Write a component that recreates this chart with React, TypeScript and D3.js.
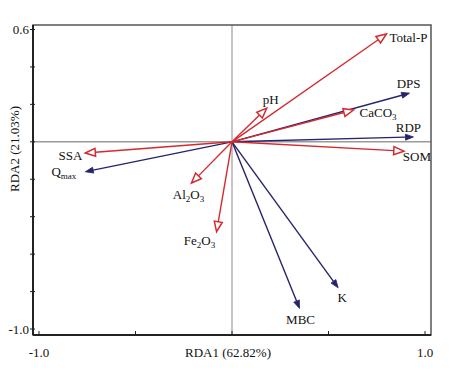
import React from 'react';
import * as d3 from 'd3';

// soil properties (red, hollow heads)
const envNames = ['Total-P', 'pH', 'CaCO3', 'SOM', 'SSA', 'Al2O3', 'Fe2O3'];
const envRda1 = [0.80, 0.18, 0.63, 0.89, -0.76, -0.21, -0.08];
const envRda2 = [0.576, 0.18, 0.17, -0.05, -0.06, -0.22, -0.48];

// response variables (navy, filled heads)
const respNames = ['DPS', 'RDP', 'Qmax', 'MBC', 'K'];
const respRda1 = [0.92, 0.94, -0.76, 0.35, 0.55];
const respRda2 = [0.26, 0.026, -0.16, -0.89, -0.78];

const xTicks = [-1.0, -0.5, 0, 0.5, 1.0];
const xTickLabels = ['-1.0', '', '', '', '1.0'];
const yTicks = [0.6, 0.4, 0.2, 0, -0.2, -0.4, -0.6, -0.8, -1.0];
const yTickLabels = ['0.6', '', '', '', '', '', '', '', '-1.0'];

const xTitle = 'RDA1 (62.82%)';
const yTitle = 'RDA2 (21.03%)';

// label placement: [dx, dy, anchor]
const labelPos: Record<string, [number, number, string]> = {
  'Total-P': [3, 8, 'start'],
  pH: [4, -4, 'middle'],
  CaCO3: [6, 7, 'start'],
  SOM: [-1, 10, 'start'],
  SSA: [-3, 7, 'end'],
  Al2O3: [-3, 16, 'middle'],
  Fe2O3: [-17, 13, 'middle'],
  DPS: [-1, -5, 'middle'],
  RDP: [-5, -5, 'middle'],
  Qmax: [-9, 4, 'end'],
  MBC: [1, 16, 'middle'],
  K: [4, 14, 'middle'],
};

// how each label is split into normal / subscript pieces
const labelParts: Record<string, [string, boolean][]> = {
  CaCO3: [['CaCO', false], ['3', true]],
  Al2O3: [['Al', false], ['2', true], ['O', false], ['3', true]],
  Fe2O3: [['Fe', false], ['2', true], ['O', false], ['3', true]],
  Qmax: [['Q', false], ['max', true]],
};

const RED = '#d42a2f';
const NAVY = '#25246b';
const FONT = '"Liberation Serif", "Times New Roman", serif';

const Label = ({ name }: { name: string }) => {
  const parts = labelParts[name];
  if (!parts) return <>{name}</>;
  let prevSub = false;
  return (
    <>
      {parts.map(([t, sub], i) => {
        const dy = sub === prevSub ? 0 : sub ? 3 : -3;
        prevSub = sub;
        return (
          <tspan key={i} dy={dy} fontSize={sub ? 9 : 13}>{t}</tspan>
        );
      })}
    </>
  );
};

export default function App() {
  const width = 466;
  const height = 386;
  const x = d3.scaleLinear().domain([-1.031, 1.031]).range([33, 431]);
  const y = d3.scaleLinear().domain([-1.032, 0.624]).range([335, 25]);
  const x0 = x(0);
  const y0 = y(0);

  const arrow = (tx: number, ty: number, len: number, half: number) => {
    const ang = Math.atan2(ty - y0, tx - x0);
    const bx = tx - len * Math.cos(ang);
    const by = ty - len * Math.sin(ang);
    const px = -Math.sin(ang) * half;
    const py = Math.cos(ang) * half;
    const p = d3.path();
    p.moveTo(tx, ty);
    p.lineTo(bx + px, by + py);
    p.lineTo(bx - px, by - py);
    p.closePath();
    return { d: p.toString(), bx, by };
  };

  const env = envNames.map((n, i) => ({ name: n, tx: x(envRda1[i]), ty: y(envRda2[i]) }));
  const resp = respNames.map((n, i) => ({ name: n, tx: x(respRda1[i]), ty: y(respRda2[i]) }));

  return (
    <svg width={width} height={height} style={{ position: 'absolute', left: 0, top: 0, background: '#fff' }}
      fontFamily={FONT}>
      {/* zero lines */}
      <line x1={x0} x2={x0} y1={25} y2={335} stroke="#8a8a8a" strokeWidth={1} />
      <line x1={33} x2={431} y1={y0} y2={y0} stroke="#9a9a9a" strokeWidth={1.6} />

      {/* frame */}
      <rect x={33} y={25} width={398} height={310} fill="none" stroke="#555" strokeWidth={1.5} />
      <line x1={33} x2={33} y1={25} y2={335} stroke="#222" strokeWidth={2} />
      <line x1={33} x2={431} y1={335} y2={335} stroke="#222" strokeWidth={2} />

      {yTicks.map((t, i) => (
        <g key={'y' + i}>
          <line x1={30} x2={35} y1={y(t)} y2={y(t)} stroke="#222" strokeWidth={1} />
          {yTickLabels[i] && (
            <text x={29} y={y(t) + 4.5} textAnchor="end" fontSize={13} fill="#111">{yTickLabels[i]}</text>
          )}
        </g>
      ))}
      {xTicks.map((t, i) => (
        <g key={'x' + i}>
          <line x1={x(t)} x2={x(t)} y1={331} y2={336} stroke="#222" strokeWidth={1} />
          {xTickLabels[i] && (
            <text x={x(t)} y={357} textAnchor="middle" fontSize={13} fill="#111">{xTickLabels[i]}</text>
          )}
        </g>
      ))}

      <text x={228} y={357} textAnchor="middle" fontSize={13} fill="#111">{xTitle}</text>
      <text transform={`translate(19,149) rotate(-90)`} textAnchor="middle" fontSize={13} fill="#111">{yTitle}</text>

      {/* response arrows */}
      {resp.map((d) => {
        const a = arrow(d.tx, d.ty, 8, 3);
        return (
          <g key={d.name}>
            <line x1={x0} y1={y0} x2={a.bx} y2={a.by} stroke={NAVY} strokeWidth={1.4} />
            <path d={a.d} fill={NAVY} stroke={NAVY} strokeWidth={0.8} />
          </g>
        );
      })}

      {/* environmental arrows */}
      {env.map((d) => {
        const a = arrow(d.tx, d.ty, 10, 4);
        return (
          <g key={d.name}>
            <line x1={x0} y1={y0} x2={a.bx} y2={a.by} stroke={RED} strokeWidth={1.4} />
            <path d={a.d} fill="#fff" stroke={RED} strokeWidth={1.5} strokeLinejoin="miter" />
          </g>
        );
      })}

      {[...env, ...resp].map((d) => {
        const [dx, dy, anchor] = labelPos[d.name];
        return (
          <text key={'l' + d.name} x={d.tx + dx} y={d.ty + dy} textAnchor={anchor as any} fontSize={13} fill="#111">
            <Label name={d.name} />
          </text>
        );
      })}
    </svg>
  );
}
